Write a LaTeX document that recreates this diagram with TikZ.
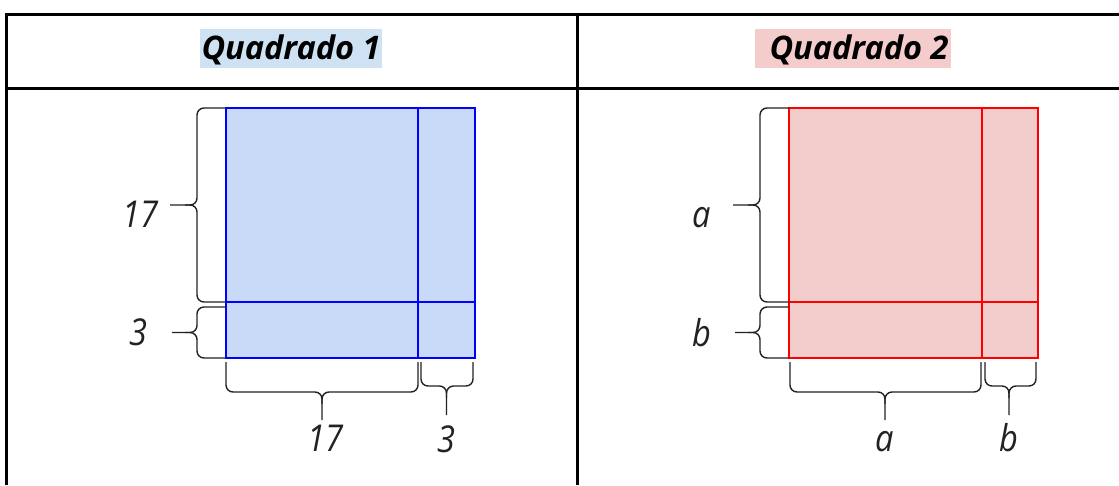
\documentclass[tikz,border=0pt]{standalone}
\usepackage{fontspec}
\setmainfont{Open Sans}
\newfontfamily\lblfont[FakeStretch=0.88]{Open Sans}
\definecolor{hlblue}{RGB}{207,226,243}
\definecolor{hlpink}{RGB}{244,204,204}
\definecolor{sqblue}{RGB}{201,218,248}
\definecolor{sqred}{RGB}{243,204,204}
\definecolor{brink}{RGB}{34,34,34}
\usetikzlibrary{positioning}

\begin{document}
\begin{tikzpicture}[x=1pt,y=-1pt,
  tbl/.style={line width=2.7pt},
  hdr/.style={font=\fontsize{32.5}{38}\selectfont\bfseries\itshape,inner xsep=2pt,inner ysep=0pt,text height=30pt,text depth=9pt,anchor=base},
  sq/.style={line width=1.5pt},
  brc/.style={draw=brink,line width=1.4pt,rounded corners=7pt},
  lbl/.style={font=\lblfont\fontsize{37}{40}\selectfont\itshape,text=brink,anchor=base,inner sep=0pt}]
  \useasboundingbox (0,0) rectangle (1119,485);
  \draw[tbl] (6.3,485) -- (6.3,14.7) -- (1119,14.7);
  \draw[tbl] (6.3,88.7) -- (1119,88.7);
  \draw[tbl] (577.3,14.7) -- (577.3,485);
  \node[hdr,fill=hlblue] (q1) at (291,59) {Quadrado 1};
  \node[hdr,fill=hlpink] (q2) at (852.5,59) {\hspace{13pt}Quadrado 2};
  \draw[sq,draw=blue,fill=sqblue] (226,108) rectangle (475,358);
  \draw[sq,blue] (418,108) -- (418,358) (226,302) -- (475,302);
  \draw[brc] (226,108) -| (197,205) -- (170,205);
  \draw[brc] (226,302) -| (197,205) -- (185,205);
  \draw[brc] (226,307) -| (197,332.5) -- (172,332.5);
  \draw[brc] (226,358) -| (197,332.5) -- (185,332.5);
  \draw[brc] (226,362) |- (322,392) -- (322,420);
  \draw[brc] (418,362) |- (322,392) -- (322,404);
  \draw[brc] (421,362) |- (446.5,386) -- (446.5,415);
  \draw[brc] (473,362) |- (446.5,386) -- (446.5,398);
  \node[lbl] (m1) at (140,227) {17};
  \node[lbl] (n1) at (138,345.5) {3};
  \node[lbl] (m2) at (325,451.5) {17};
  \node[lbl] (n2) at (446.7,452) {3};
  \draw[sq,draw=red,fill=sqred] (789,108) rectangle (1038,358);
  \draw[sq,red] (982,108) -- (982,358) (789,302) -- (1038,302);
  \draw[brc] (789,108) -| (760,205) -- (733,205);
  \draw[brc] (789,302) -| (760,205) -- (748,205);
  \draw[brc] (789,307) -| (760,332.5) -- (735,332.5);
  \draw[brc] (789,358) -| (760,332.5) -- (748,332.5);
  \draw[brc] (790,362) |- (885,392) -- (885,420);
  \draw[brc] (981,362) |- (885,392) -- (885,404);
  \draw[brc] (985,362) |- (1009,386) -- (1009,415);
  \draw[brc] (1036,362) |- (1009,386) -- (1009,398);
  \node[lbl] (a1) at (702,227) {a};
  \node[lbl] (b1) at (702,346) {b};
  \node[lbl] (a2) at (885,451.7) {a};
  \node[lbl] (b2) at (1009,451.7) {b};
\end{tikzpicture}
\end{document}
